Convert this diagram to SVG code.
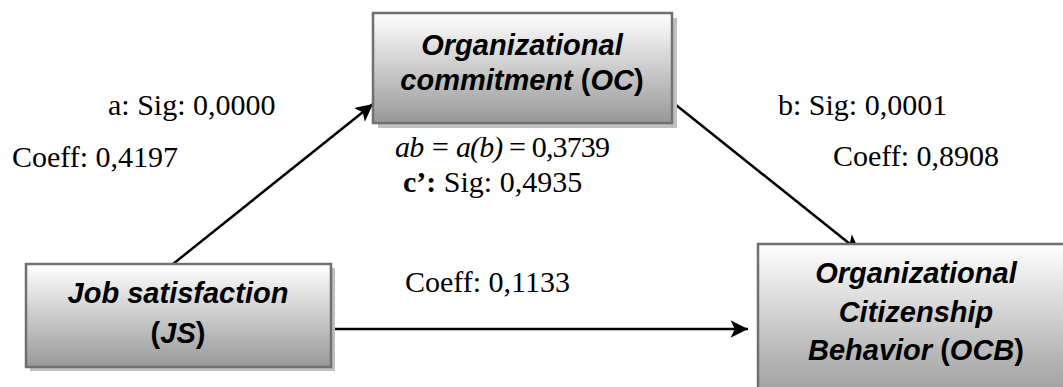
<svg xmlns="http://www.w3.org/2000/svg" width="1063" height="387" viewBox="0 0 1063 387">
<defs>
<linearGradient id="g" x1="0" y1="0" x2="0" y2="1">
<stop offset="0" stop-color="#ffffff"/>
<stop offset="1" stop-color="#989898"/>
</linearGradient>
<marker id="ah" viewBox="0 0 10 10" refX="10" refY="5" markerWidth="8" markerHeight="7" markerUnits="strokeWidth" orient="auto">
<path d="M0,0 L10,5 L0,10 L2.5,5 z" fill="#000"/>
</marker>
</defs>
<style>
.sh{fill:#c0c0c0}
.bx{fill:url(#g);stroke:#707070;stroke-width:2.5}
.nt{font-family:"Liberation Sans",Arial,sans-serif;font-size:29px;font-weight:bold;font-style:italic;fill:#000;text-anchor:middle}
.up{font-style:normal}
.lb{font-family:"Liberation Serif","Times New Roman",serif;font-size:30px;fill:#000}
.cn{stroke:#000;stroke-width:2.5;fill:none;marker-end:url(#ah)}
</style>
<rect width="1063" height="387" fill="#fff"/>
<g id="connectors">
<line class="cn" x1="173" y1="264" x2="373" y2="104"/>
<line class="cn" x1="671" y1="101" x2="860" y2="252"/>
<line class="cn" x1="332" y1="329" x2="748" y2="329"/>
</g>
<g id="node-oc">
<rect class="sh" x="378" y="18" width="299" height="110"/>
<rect class="bx" x="373" y="13" width="299" height="110"/>
<text class="nt" x="522" y="55">Organizational</text>
<text class="nt" x="522" y="90">commitment <tspan class="up">(</tspan>OC<tspan class="up">)</tspan></text>
</g>
<g id="node-js">
<rect class="sh" x="30" y="268" width="305" height="103"/>
<rect class="bx" x="26" y="264" width="305" height="103"/>
<text class="nt" x="178" y="303">Job satisfaction</text>
<text class="nt" x="178" y="343"><tspan class="up">(</tspan>JS<tspan class="up">)</tspan></text>
</g>
<g id="node-ocb">
<rect class="bx" x="758" y="244" width="320" height="160"/>
<text class="nt" x="916" y="283">Organizational</text>
<text class="nt" x="916" y="322">Citizenship</text>
<text class="nt" x="916" y="360">Behavior <tspan class="up">(</tspan>OCB<tspan class="up">)</tspan></text>
</g>
<g id="labels">
<text class="lb" x="108" y="115">a: Sig: 0,0000</text>
<text class="lb" x="12" y="167">Coeff: 0,4197</text>
<text class="lb" x="778" y="115">b: Sig: 0,0001</text>
<text class="lb" x="833" y="166">Coeff: 0,8908</text>
<text class="lb" x="395" y="157" textLength="215" lengthAdjust="spacing"><tspan font-style="italic">ab = a(b)</tspan> = 0,3739</text>
<text class="lb" x="403" y="192"><tspan font-weight="bold">c’:</tspan> Sig: 0,4935</text>
<text class="lb" x="405" y="292">Coeff: 0,1133</text>
</g>
</svg>
